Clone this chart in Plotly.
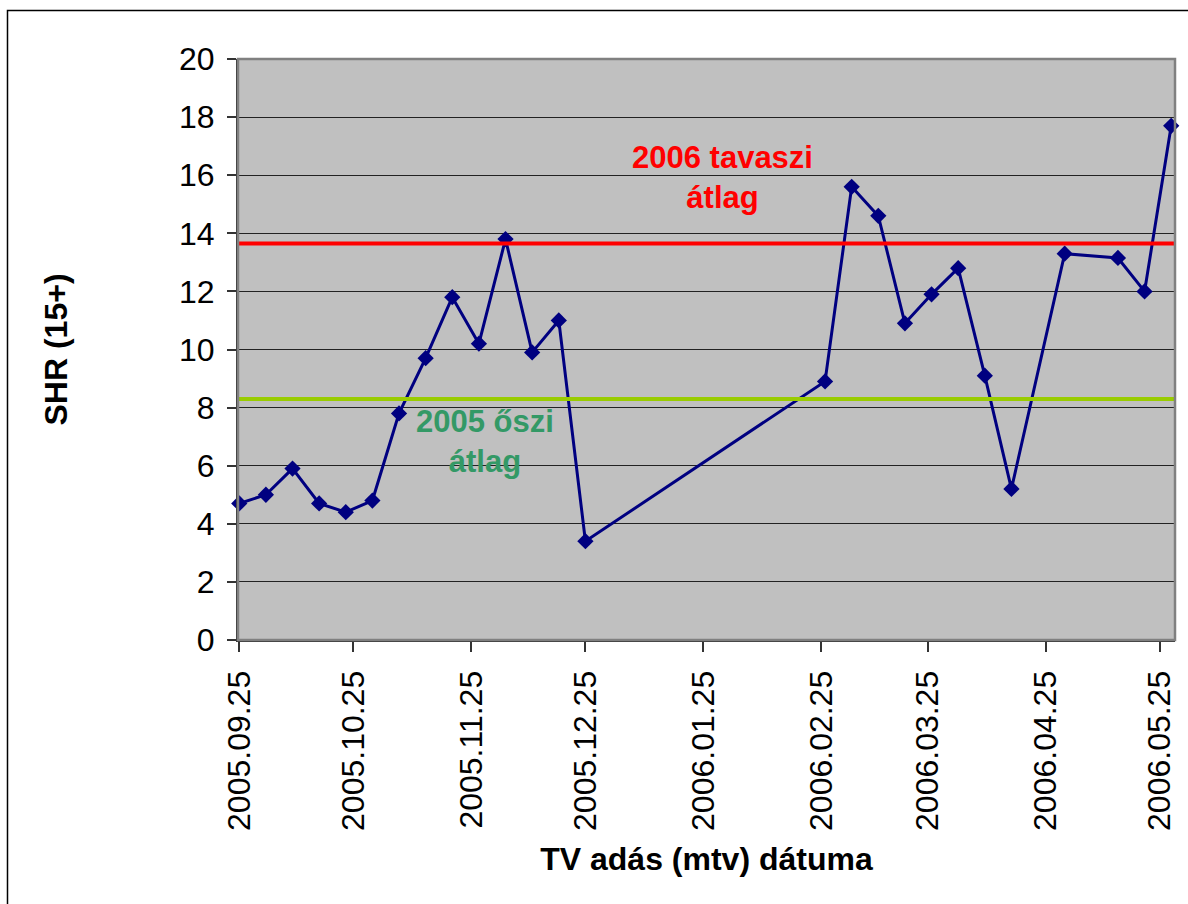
import plotly.graph_objects as go

# ---- data ----
dates = [
    "2005-09-25", "2005-10-02", "2005-10-09", "2005-10-16", "2005-10-23", "2005-10-30",
    "2005-11-06", "2005-11-13", "2005-11-20", "2005-11-27", "2005-12-04", "2005-12-11",
    "2005-12-18", "2005-12-25",
    "2006-02-26", "2006-03-05", "2006-03-12", "2006-03-19", "2006-03-26", "2006-04-02",
    "2006-04-09", "2006-04-16", "2006-04-30", "2006-05-14", "2006-05-21", "2006-05-28",
]
shr = [
    4.7, 5.0, 5.9, 4.7, 4.4, 4.8,
    7.8, 9.7, 11.8, 10.2, 13.8, 9.9,
    11.0, 3.4,
    8.9, 15.6, 14.6, 10.9, 11.9, 12.8,
    9.1, 5.2, 13.3, 13.15, 12.0, 17.7,
]
avg_2005_autumn = 8.3
avg_2006_spring = 13.65

tick_dates = ["2005-09-25", "2005-10-25", "2005-11-25", "2005-12-25", "2006-01-25",
              "2006-02-25", "2006-03-25", "2006-04-25", "2006-05-25"]
tick_labels = ["2005.09.25", "2005.10.25", "2005.11.25", "2005.12.25", "2006.01.25",
               "2006.02.25", "2006.03.25", "2006.04.25", "2006.05.25"]
y_ticks = [0, 2, 4, 6, 8, 10, 12, 14, 16, 18, 20]

x_range = ["2005-09-24 16:00", "2006-05-29 00:00"]

FONT = "Liberation Sans, Arial, sans-serif"

fig = go.Figure()

fig.add_hline(y=avg_2006_spring, line=dict(color="#FF0000", width=4), layer="above")
fig.add_hline(y=avg_2005_autumn, line=dict(color="#99CC00", width=4), layer="above")

fig.add_trace(go.Scatter(
    x=dates, y=shr, mode="lines+markers",
    line=dict(color="#000080", width=3),
    marker=dict(symbol="diamond", size=12.5, color="#000080"),
    cliponaxis=False, showlegend=False,
))

fig.add_annotation(x="2006-01-30", y=15.92, xref="x", yref="y",
                   text="2006 tavaszi<br>átlag", showarrow=False,
                   font=dict(family=FONT, size=31, color="#FF0000", weight="bold"))
fig.add_annotation(x="2005-11-28 14:00", y=6.85, xref="x", yref="y",
                   text="2005 őszi<br>átlag", showarrow=False,
                   font=dict(family=FONT, size=31, color="#339966", weight="bold"))

# outer chart border
fig.add_shape(type="rect", xref="paper", yref="paper",
              x0=-0.246, x1=1.03, y0=-0.48, y1=1.0835,
              line=dict(color="#000000", width=1.5), layer="below")
# plot area border
fig.add_shape(type="rect", xref="paper", yref="paper", x0=0, x1=1, y0=0, y1=1,
              line=dict(color="#808080", width=2.5), layer="above")

fig.update_layout(
    width=1188, height=904,
    margin=dict(l=238, r=11, t=59, b=264),
    paper_bgcolor="white", plot_bgcolor="#C0C0C0",
    font=dict(family=FONT, size=32, color="black"),
    showlegend=False,
)
fig.update_xaxes(
    type="date", range=x_range,
    tickmode="array", tickvals=tick_dates, ticktext=tick_labels,
    tickangle=-90, ticks="outside", ticklen=10, tickcolor="#333333", tickwidth=1.5,
    ticklabelstandoff=6,
    showgrid=False, zeroline=False,
    showline=True, linecolor="#333333", linewidth=2,
    tickfont=dict(family=FONT, size=32),
    title=dict(text="<b>TV adás (mtv) dátuma</b>", font=dict(family=FONT, size=32), standoff=18),
)
fig.update_yaxes(
    range=[0, 20], tickmode="array", tickvals=y_ticks,
    ticks="outside", ticklen=9, tickcolor="#333333", tickwidth=1.5,
    ticklabelstandoff=6,
    showgrid=True, gridcolor="#222222", gridwidth=1,
    zeroline=False, showline=True, linecolor="#333333", linewidth=2,
    tickfont=dict(family=FONT, size=32),
    title=dict(text="<b>SHR (15+)</b>", font=dict(family=FONT, size=32), standoff=102),
)

fig.write_html("out.html", config={"displayModeBar": False},
               post_script="document.body.style.margin='0';document.body.style.overflow='hidden';")
